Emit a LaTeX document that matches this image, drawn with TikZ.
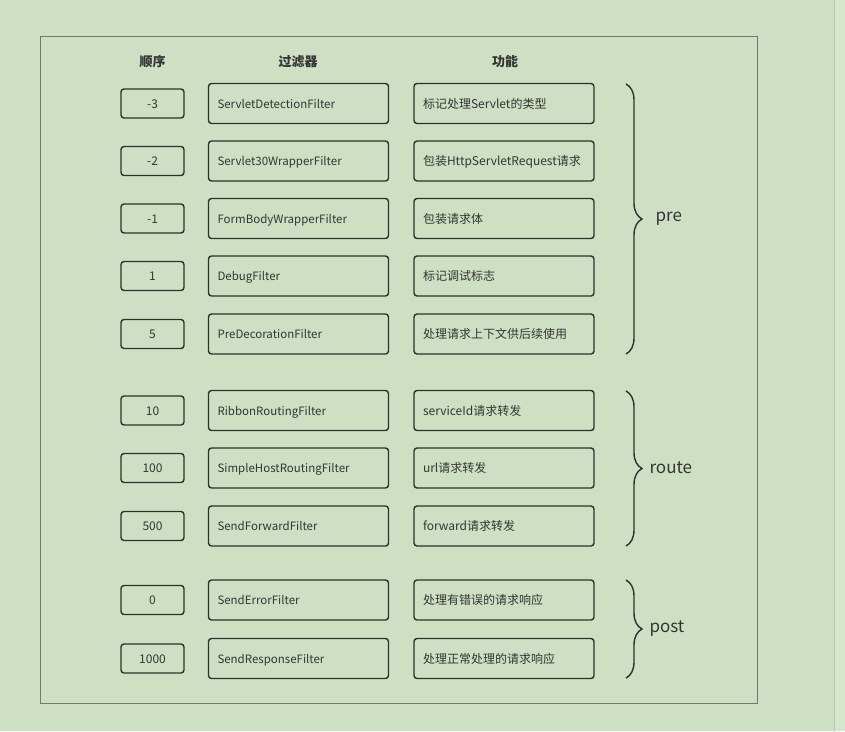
\documentclass[tikz,border=0pt]{standalone}
\usepackage{fontspec}
\setmainfont{Noto Sans CJK SC}
\usetikzlibrary{decorations.pathreplacing}

\definecolor{bggreen}{HTML}{CFDFC4}
\definecolor{stripgreen}{HTML}{D6E6CC}
\definecolor{stripline}{HTML}{B9C8AE}
\definecolor{frameline}{HTML}{6F7B6A}
\definecolor{boxline}{HTML}{2E302C}
\definecolor{txt}{HTML}{333531}

\tikzset{
	ordbox/.style={draw=boxline, line width=1.4pt, rounded corners=3pt, minimum width=63pt, minimum height=29pt, inner sep=0pt, text height=10pt, text depth=1pt, text=txt, font=\fontsize{12}{14}\selectfont},
	filbox/.style={draw=boxline, line width=1.4pt, rounded corners=3pt, text width=162pt, inner xsep=9pt, inner ysep=0pt, minimum height=40pt, text height=10.5pt, text depth=1.5pt, align=left, text=txt, font=\fontsize{11.5}{14}\selectfont},
	funbox/.style={filbox, font=\fontsize{12}{14}\selectfont},
	head/.style={text=txt, font=\fontsize{13}{15}\selectfont\bfseries},
	brc/.style={draw=boxline, line width=1.4pt, decorate, decoration={brace, amplitude=16pt}},
	grp/.style={anchor=west, text=txt, font=\fontsize{17}{20}\selectfont}
}

\begin{document}
\begin{tikzpicture}[x=1pt,y=-1pt]
	\useasboundingbox (0,0) rectangle (845,731);
	\fill[bggreen] (0,0) rectangle (845,731);
	\fill[stripgreen] (834,0) rectangle (845,731);
	\draw[stripline] (834,0) -- (834,731);
	\draw[frameline, line width=0.8pt] (40,36) rectangle (757,703);

	% column heads
	\node[head] (hord) at (152.5,61.5) {顺序};
	\node[head] (hfil) at (298,61.5) {过滤器};
	\node[head] (hfun) at (505,61.5) {功能};

	% pre
	\node[ordbox] (o1) at (152.5,103.5) {-3};
	\node[filbox] (f1) at (298.5,103.5) {ServletDetectionFilter};
	\node[funbox] (g1) at (504,103.5) {标记处理Servlet的类型};

	\node[ordbox] (o2) at (152.5,161) {-2};
	\node[filbox] (f2) at (298.5,161) {Servlet30WrapperFilter};
	\node[funbox] (g2) at (504,161) {包装HttpServletRequest请求};

	\node[ordbox] (o3) at (152.5,218.5) {-1};
	\node[filbox] (f3) at (298.5,218.5) {FormBodyWrapperFilter};
	\node[funbox] (g3) at (504,218.5) {包装请求体};

	\node[ordbox] (o4) at (152.5,276) {1};
	\node[filbox] (f4) at (298.5,276) {DebugFilter};
	\node[funbox] (g4) at (504,276) {标记调试标志};

	\node[ordbox] (o5) at (152.5,334) {5};
	\node[filbox] (f5) at (298.5,334) {PreDecorationFilter};
	\node[funbox] (g5) at (504,334) {处理请求上下文供后续使用};

	% route
	\node[ordbox] (o6) at (152.5,410.5) {10};
	\node[filbox] (f6) at (298.5,410.5) {RibbonRoutingFilter};
	\node[funbox] (g6) at (504,410.5) {serviceId请求转发};

	\node[ordbox] (o7) at (152.5,468) {100};
	\node[filbox] (f7) at (298.5,468) {SimpleHostRoutingFilter};
	\node[funbox] (g7) at (504,468) {url请求转发};

	\node[ordbox] (o8) at (152.5,526) {500};
	\node[filbox] (f8) at (298.5,526) {SendForwardFilter};
	\node[funbox] (g8) at (504,526) {forward请求转发};

	% post
	\node[ordbox] (o9) at (152.5,600) {0};
	\node[filbox] (f9) at (298.5,600) {SendErrorFilter};
	\node[funbox] (g9) at (504,600) {处理有错误的请求响应};

	\node[ordbox] (o10) at (152.5,658.5) {1000};
	\node[filbox] (f10) at (298.5,658.5) {SendResponseFilter};
	\node[funbox] (g10) at (504,658.5) {处理正常处理的请求响应};

	% braces
	\coordinate (pretop) at (626,84);
	\coordinate (prebot) at (626,354);
	\coordinate (routetop) at (626,391);
	\coordinate (routebot) at (626,546);
	\coordinate (posttop) at (626,580);
	\coordinate (postbot) at (626,678);
	\draw[brc] (pretop) -- (prebot);
	\draw[brc] (routetop) -- (routebot);
	\draw[brc] (posttop) -- (postbot);

	\node[grp] (pre) at (652,219) {pre};
	\node[grp] (route) at (646,468) {route};
	\node[grp] (post) at (646,629) {post};
\end{tikzpicture}
\end{document}
